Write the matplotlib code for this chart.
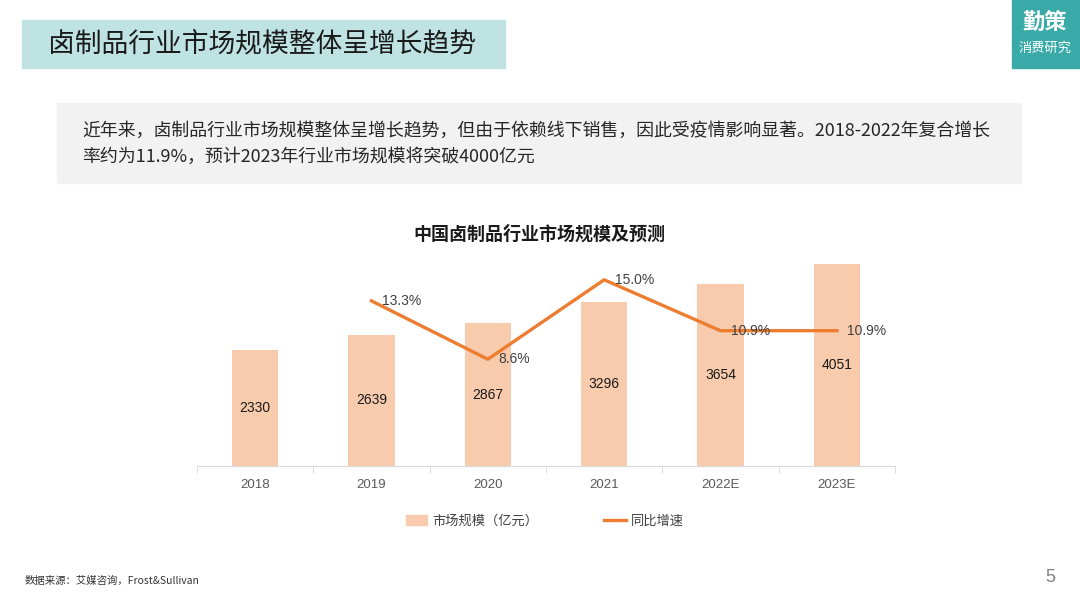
import matplotlib
matplotlib.use("Agg")
import matplotlib.pyplot as plt
from matplotlib.patches import Rectangle
from matplotlib.lines import Line2D

plt.rcParams['font.family'] = ['Liberation Sans', 'Noto Sans CJK SC', 'DejaVu Sans']

# 数据
years = ["2018", "2019", "2020", "2021", "2022E", "2023E"]
market_size = [2330, 2639, 2867, 3296, 3654, 4051]   # 亿元
growth_years = ["2019", "2020", "2021", "2022E", "2023E"]
growth = [13.3, 8.6, 15.0, 10.9, 10.9]             # %

title = "卤制品行业市场规模整体呈增长趋势"
summary = ["近年来，卤制品行业市场规模整体呈增长趋势，但由于依赖线下销售，因此受疫情影响显著。2018-2022年复合增长",
           "率约为11.9%，预计2023年行业市场规模将突破4000亿元"]
chart_title = "中国卤制品行业市场规模及预测"
source = "数据来源：艾媒咨询，Frost&Sullivan"

W, H = 1080, 608
fig = plt.figure(figsize=(W / 100, H / 100), dpi=100)
fig.patch.set_facecolor("white")

cjk = ['Noto Sans CJK SC', 'DejaVu Sans']


def px(x, y):
    return x / W, 1 - y / H


def box(x0, y0, x1, y1, color):
    fig.patches.append(Rectangle(px(x0, y1), (x1 - x0) / W, (y1 - y0) / H,
                                 transform=fig.transFigure, color=color, zorder=0))


# 顶部标题框 + logo
box(22, 20, 505, 68, "#bfe3e3")
fig.text(*px(48, 44), title, fontsize=19.3, family=cjk, va="center", ha="left", color="#1a1a1a")
box(1012, 0, 1080, 68, "#3aaaa8")
fig.text(*px(1045, 22), "勤策", fontsize=16, family=cjk, weight="bold", color="white", ha="center", va="center")
fig.text(*px(1045, 48), "消费研究", fontsize=9.5, family=cjk, color="white", ha="center", va="center")

# 灰色摘要框
box(57, 103, 1021, 183, "#f2f2f2")
fig.text(*px(82, 131), summary[0], fontsize=12.9, family=cjk, va="center", ha="left", color="#262626")
fig.text(*px(82, 157), summary[1], fontsize=12.9, family=cjk, va="center", ha="left", color="#262626")

# 图表标题
fig.text(*px(539, 234), chart_title, fontsize=13, family=cjk, weight="bold", ha="center", va="center", color="#1a1a1a")

# 主图
ax = fig.add_axes([197 / W, 1 - 466 / H, 698 / W, 216 / H])
x = list(range(len(years)))
ax.bar(x, market_size, width=0.4, color="#f8cbad", zorder=2)
for xi, v in zip(x, market_size):
    ax.text(xi, v / 2, str(v), ha="center", va="center", fontsize=10, color="#1a1a1a", zorder=3)
ax.set_xlim(-0.5, len(years) - 0.5)
ax.set_ylim(0, 4340)
ax.set_yticks([])
ax.set_xticks(x, years)
ax.set_xticks([i - 0.5 for i in range(len(years) + 1)], minor=True)
ax.tick_params(axis="x", which="major", length=0, pad=9, labelsize=9.5, labelcolor="#595959")
ax.tick_params(axis="x", which="minor", length=5, color="#d9d9d9")
for s in ["top", "left", "right"]:
    ax.spines[s].set_visible(False)
ax.spines["bottom"].set_color("#d9d9d9")
ax.patch.set_alpha(0)

ax2 = ax.twinx()
gx = [years.index(y) for y in growth_years]
ax2.plot(gx, growth, color="#ed7d31", linewidth=2.4, zorder=4)
for xi, g in zip(gx, growth):
    ax2.text(xi + 0.09, g, f"{g:.1f}%", ha="left", va="center", fontsize=10, color="#404040", zorder=5)
ax2.set_ylim(0, 17.4)
ax2.set_yticks([])
for s in ax2.spines.values():
    s.set_visible(False)

# 图例
handles = [Rectangle((0, 0), 1, 1, color="#f8cbad"),
           Line2D([0], [0], color="#ed7d31", linewidth=2.4)]
fig.legend(handles, ["市场规模（亿元）", "同比增速"], loc="center", bbox_to_anchor=px(545, 521),
           ncol=2, frameon=False, prop={"family": cjk, "size": 9.5}, columnspacing=5,
           handlelength=1.6, handletextpad=0.4, labelcolor="#404040")

# 底部
fig.text(*px(25, 581), source, fontsize=7.5, family=cjk, va="center", ha="left", color="#333333")
fig.text(*px(1050, 577), "5", fontsize=13, va="center", ha="center", color="#808080")

fig.savefig("out.png", dpi=100)
